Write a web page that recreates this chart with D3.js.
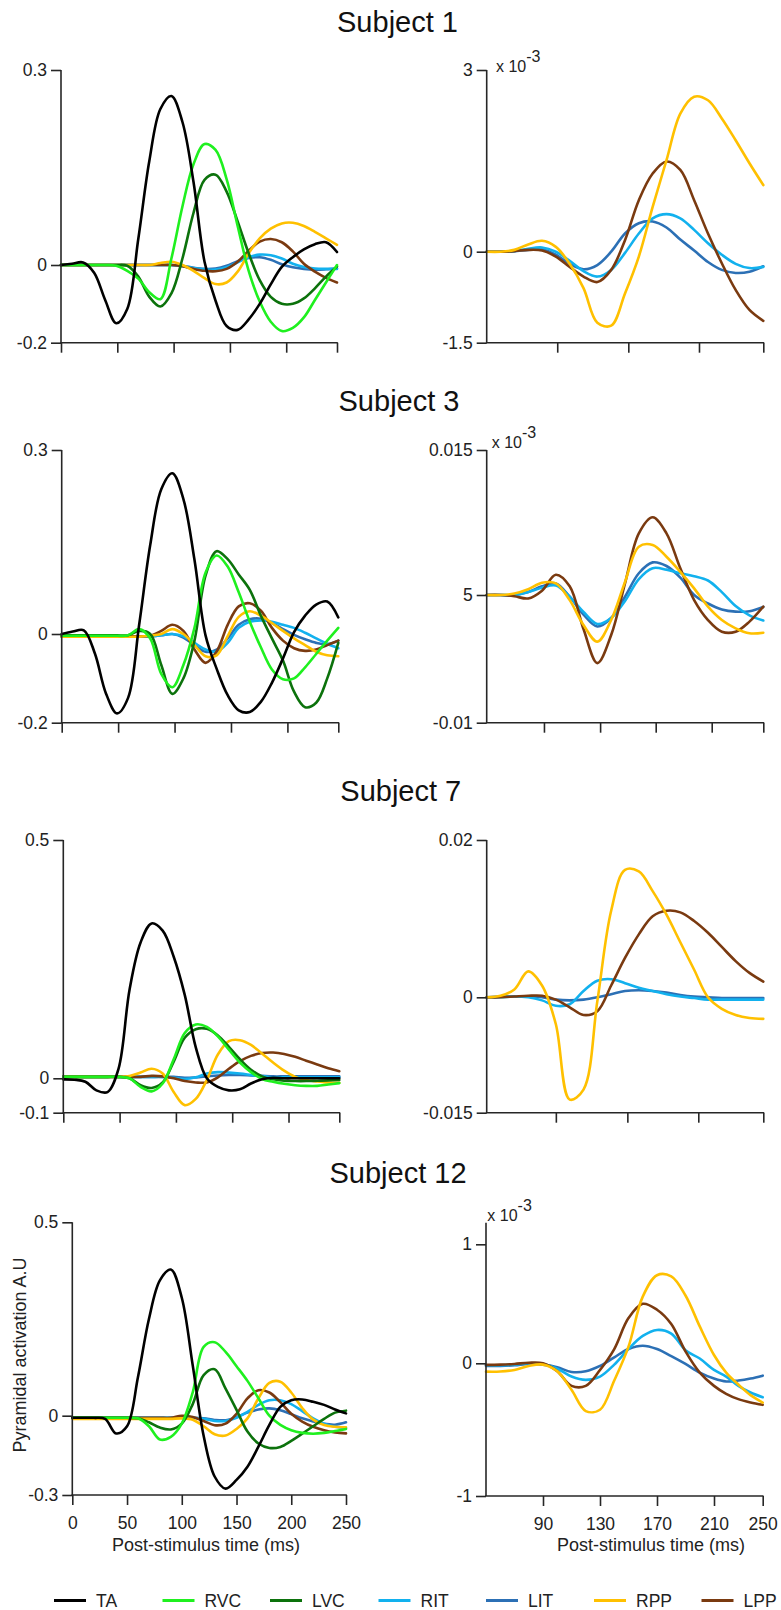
<!DOCTYPE html>
<html><head><meta charset="utf-8">
<script src="https://cdn.jsdelivr.net/npm/d3@7"></script>
<style>
body{margin:0;background:#fff;}
svg{display:block;font-family:"Liberation Sans",Arial,sans-serif;}
</style></head><body>
<svg id="chart" width="781" height="1610"></svg>
<script>
// ---------- DATA ----------
const seriesNames = ["TA","RVC","LVC","RIT","LIT","RPP","LPP"];
const subjects = ["Subject 1","Subject 3","Subject 7","Subject 12"];
const timeLeft = [0,10,20,30,40,50,60,70,80,90,100,110,120,130,140,150,160,170,180,190,200,210,220,230,240,250];
const timeRight = [50,60,70,80,90,100,110,120,130,140,150,160,170,180,190,200,210,220,230,240,250];

// Subject 1 – left
const s1L_TA  = [0,0.002,0.004,-0.02,-0.09,-0.15,-0.113,0.04,0.16,0.24,0.26,0.22,0.128,0.005,-0.092,-0.157,-0.167,-0.14,-0.1,-0.05,-0.005,0.012,0.024,0.032,0.035,0.02];
const s1L_RVC = [0,0,0,0,0,-0.002,-0.015,-0.035,-0.07,-0.088,0.01,0.09,0.155,0.186,0.177,0.132,0.06,-0.015,-0.094,-0.146,-0.17,-0.162,-0.135,-0.09,-0.045,0];
const s1L_LVC = [0,0,0,0,0,0,-0.002,-0.03,-0.082,-0.107,-0.073,0.01,0.08,0.131,0.139,0.113,0.067,0.018,-0.039,-0.082,-0.1,-0.1,-0.086,-0.06,-0.03,-0.004];
const s1L_RIT = [0,0,0,0,0,0,0,0,0,0,0,-0.003,-0.008,-0.011,-0.012,-0.006,0.004,0.012,0.016,0.015,0.01,0.002,-0.005,-0.009,-0.01,-0.01];
const s1L_LIT = [0,0,0,0,0,0,0,0,0,0,0,-0.002,-0.007,-0.01,-0.009,-0.002,0.006,0.011,0.012,0.008,0.001,-0.006,-0.01,-0.012,-0.011,-0.009];
const s1L_RPP = [0,0,0,0,0,0,0,0,0,0.003,0.005,0,-0.015,-0.034,-0.049,-0.045,-0.017,0.018,0.041,0.056,0.064,0.065,0.06,0.051,0.041,0.031];
const s1L_LPP = [0,0,0,0,0,0,0,0,0,0,0,-0.003,-0.01,-0.015,-0.016,-0.01,0.005,0.022,0.036,0.04,0.035,0.021,0.002,-0.017,-0.033,-0.045];
// Subject 1 – right (x 10^-3)
const s1R_RIT = [0,0,0.01,0.05,0.07,0,-0.15,-0.32,-0.41,-0.3,-0.02,0.3,0.55,0.62,0.55,0.36,0.14,-0.05,-0.2,-0.27,-0.25];
const s1R_LIT = [0,0,0.01,0.03,0.04,-0.05,-0.2,-0.29,-0.22,0,0.3,0.47,0.5,0.4,0.2,0.02,-0.17,-0.3,-0.35,-0.33,-0.24];
const s1R_RPP = [0,0,0.03,0.12,0.18,0.08,-0.2,-0.6,-1.17,-1.22,-0.69,-0.08,0.74,1.51,2.28,2.56,2.5,2.2,1.84,1.46,1.1];
const s1R_LPP = [0,0,0.01,0.03,0.02,-0.08,-0.25,-0.41,-0.5,-0.3,0.19,0.85,1.29,1.49,1.35,0.85,0.3,-0.19,-0.63,-0.96,-1.14];

// Subject 3 – left
const s3L_TA  = [0,0.004,0.006,-0.044,-0.134,-0.179,-0.144,0.015,0.145,0.236,0.262,0.22,0.121,-0.003,-0.078,-0.138,-0.172,-0.176,-0.153,-0.11,-0.055,0.003,0.03,0.048,0.053,0.027];
const s3L_RVC = [-0.004,-0.004,-0.004,-0.004,-0.004,-0.004,-0.003,0.008,-0.01,-0.09,-0.12,-0.07,0.01,0.1,0.128,0.11,0.068,0.02,-0.03,-0.08,-0.102,-0.1,-0.075,-0.045,-0.015,0.01];
const s3L_LVC = [-0.003,-0.003,-0.003,-0.003,-0.003,-0.003,-0.003,0.005,0,-0.07,-0.135,-0.1,-0.015,0.095,0.135,0.122,0.097,0.072,0.03,-0.01,-0.06,-0.13,-0.165,-0.155,-0.1,-0.02];
const s3L_RIT = [-0.006,-0.006,-0.006,-0.006,-0.006,-0.006,-0.006,-0.006,-0.006,-0.003,0,-0.005,-0.02,-0.035,-0.04,-0.02,0.01,0.02,0.022,0.02,0.015,0.01,0.002,-0.01,-0.022,-0.032];
const s3L_LIT = [-0.006,-0.006,-0.006,-0.006,-0.006,-0.006,-0.006,-0.006,-0.006,-0.003,0,-0.008,-0.025,-0.04,-0.035,-0.01,0.015,0.024,0.025,0.018,0.008,-0.002,-0.012,-0.02,-0.023,-0.015];
const s3L_RPP = [-0.006,-0.006,-0.006,-0.006,-0.006,-0.006,-0.006,-0.006,-0.004,0,0.008,0,-0.025,-0.05,-0.048,-0.005,0.028,0.037,0.03,0.018,0.005,-0.01,-0.025,-0.04,-0.048,-0.05];
const s3L_LPP = [-0.005,-0.005,-0.005,-0.005,-0.005,-0.005,-0.005,-0.005,-0.004,0.005,0.015,0.005,-0.035,-0.065,-0.04,0.015,0.045,0.05,0.038,0.01,-0.015,-0.032,-0.038,-0.035,-0.025,-0.015];
// Subject 3 – right (axis labelled 0.015 / 5 / -0.01)
const s3R_RIT = [5,5,5,5.2,5.5,5.65,4.8,3.0,1.6,2.3,4.3,6.1,6.85,6.75,6.5,6.3,6.0,5.2,3.7,2.6,2.0];
const s3R_LIT = [5,5,5,5.2,5.6,5.8,4.8,2.7,1.3,2.3,4.8,6.5,7.25,7.0,6.2,5.0,4.0,3.3,3.05,3.1,3.6];
const s3R_RPP = [5,5,5.1,5.4,5.85,5.8,4.4,1.47,-0.48,2.06,5.9,8.33,8.45,7.64,6.6,5.46,3.63,2.06,1.08,0.5,0.57];
const s3R_LPP = [5,5,4.85,4.6,5.3,6.4,5.6,1.0,-3.0,0.3,5.8,9.25,10.36,9.25,6.84,4.41,2.06,0.69,0.69,1.87,3.63];

// Subject 7 – left
const s7L_TA  = [-0.003,-0.004,-0.01,-0.035,-0.04,0.02,0.186,0.285,0.325,0.31,0.255,0.175,0.065,0,-0.025,-0.035,-0.032,-0.015,-0.003,0.001,0,0,0,0,0,0];
const s7L_RVC = [0.003,0.003,0.003,0.003,0.003,0.003,0,-0.025,-0.038,-0.015,0.04,0.095,0.113,0.108,0.088,0.06,0.033,0.013,-0.002,-0.01,-0.016,-0.02,-0.022,-0.022,-0.018,-0.014];
const s7L_LVC = [0.003,0.003,0.003,0.003,0.003,0.003,0,-0.02,-0.028,-0.012,0.035,0.085,0.103,0.104,0.09,0.066,0.04,0.018,0.004,-0.003,-0.007,-0.008,-0.008,-0.007,-0.006,-0.005];
const s7L_RIT = [0.003,0.003,0.003,0.003,0.003,0.003,0.003,0.003,0.003,0.003,0.001,-0.002,0.002,0.01,0.013,0.012,0.01,0.007,0.004,0.002,0.002,0.002,0.002,0.002,0.002,0.002];
const s7L_LIT = [0.003,0.003,0.003,0.003,0.003,0.003,0.003,0.003,0.003,0.003,0.003,0.001,0.002,0.004,0.006,0.007,0.007,0.006,0.005,0.004,0.004,0.004,0.004,0.004,0.004,0.004];
const s7L_RPP = [0.003,0.003,0.003,0.003,0.003,0.003,0.005,0.012,0.02,0.01,-0.04,-0.078,-0.06,-0.005,0.05,0.078,0.08,0.07,0.052,0.033,0.016,0.003,-0.005,-0.009,-0.012,-0.013];
const s7L_LPP = [0.003,0.003,0.003,0.003,0.003,0.003,0.003,0.003,0.005,0.004,0,-0.008,-0.012,-0.012,0.002,0.02,0.036,0.047,0.053,0.054,0.051,0.045,0.037,0.029,0.021,0.015];
// Subject 7 – right
const s7R_RIT = [0,0,0.0001,0,-0.0004,-0.0011,-0.0009,0.0008,0.0021,0.0023,0.0018,0.0012,0.0008,0.0004,0.0001,-0.0001,-0.0003,-0.0003,-0.0003,-0.0003,-0.0003];
const s7R_LIT = [0,0.0001,0.0001,0.0001,0,-0.0003,-0.0004,-0.0003,0,0.0004,0.0008,0.0009,0.0008,0.0006,0.0003,0.0001,0,-0.0001,-0.0001,-0.0001,-0.0001];
const s7R_RPP = [0,0.0002,0.001,0.0033,0.0015,-0.0035,-0.0133,-0.012,-0.0005,0.011,0.0162,0.016,0.0135,0.0105,0.007,0.0035,0,-0.0015,-0.0023,-0.0027,-0.0028];
const s7R_LPP = [0,0,0.0001,0.0002,0.0002,-0.0003,-0.0013,-0.0023,-0.0018,0.0015,0.005,0.008,0.0103,0.011,0.0108,0.0097,0.0082,0.0064,0.0046,0.0031,0.002];

// Subject 12 – left
const s12L_TA  = [-0.008,-0.008,-0.008,-0.012,-0.067,-0.04,0.1,0.25,0.35,0.378,0.305,0.13,-0.077,-0.23,-0.276,-0.243,-0.193,-0.117,-0.035,0.023,0.04,0.042,0.036,0.028,0.016,0.006];
const s12L_RVC = [-0.008,-0.008,-0.008,-0.008,-0.008,-0.008,-0.01,-0.04,-0.09,-0.08,-0.03,0.06,0.178,0.19,0.165,0.128,0.09,0.045,0,-0.035,-0.055,-0.065,-0.068,-0.065,-0.058,-0.05];
const s12L_LVC = [-0.008,-0.008,-0.008,-0.008,-0.008,-0.008,-0.01,-0.025,-0.045,-0.052,-0.03,0.03,0.105,0.12,0.07,0.015,-0.06,-0.105,-0.122,-0.118,-0.095,-0.068,-0.04,-0.012,0.008,0.013];
const s12L_RIT = [-0.008,-0.008,-0.008,-0.008,-0.008,-0.008,-0.008,-0.008,-0.008,-0.008,-0.008,-0.008,-0.012,-0.02,-0.02,-0.008,0.01,0.028,0.04,0.04,0.03,0.012,-0.01,-0.03,-0.042,-0.047];
const s12L_LIT = [-0.008,-0.008,-0.008,-0.008,-0.008,-0.008,-0.008,-0.008,-0.008,-0.008,-0.008,-0.008,-0.01,-0.016,-0.017,-0.005,0.008,0.016,0.019,0.014,0.004,-0.01,-0.022,-0.031,-0.034,-0.025];
const s12L_RPP = [-0.012,-0.012,-0.012,-0.012,-0.012,-0.012,-0.012,-0.012,-0.012,-0.012,-0.01,-0.015,-0.04,-0.07,-0.075,-0.05,-0.01,0.045,0.085,0.088,0.06,0.02,-0.015,-0.035,-0.042,-0.044];
const s12L_LPP = [-0.008,-0.008,-0.008,-0.008,-0.008,-0.008,-0.008,-0.008,-0.008,-0.008,0,-0.005,-0.02,-0.036,-0.03,0.005,0.045,0.066,0.06,0.035,0.005,-0.022,-0.042,-0.055,-0.063,-0.067];
// Subject 12 – right (x 10^-3)
const s12R_RIT = [-0.015,-0.015,-0.01,0,-0.005,-0.04,-0.1,-0.125,-0.1,-0.01,0.12,0.23,0.28,0.25,0.11,0.04,-0.05,-0.1,-0.17,-0.22,-0.256];
const s12R_LIT = [-0.02,-0.02,-0.015,-0.005,-0.01,-0.03,-0.065,-0.06,-0.02,0.05,0.12,0.148,0.12,0.06,-0.005,-0.07,-0.115,-0.137,-0.13,-0.115,-0.093];
const s12R_RPP = [-0.063,-0.062,-0.05,-0.02,-0.01,-0.06,-0.2,-0.36,-0.35,-0.13,0.14,0.56,0.74,0.73,0.57,0.31,0.07,-0.07,-0.16,-0.24,-0.296];
const s12R_LPP = [-0.012,-0.01,-0.005,0.005,0,-0.06,-0.17,-0.17,-0.05,0.12,0.38,0.5,0.45,0.33,0.1,-0.07,-0.17,-0.23,-0.27,-0.295,-0.313];

// tick values / labels
const yTicks1L = [-0.2,0,0.3],  yLabels1L = ["-0.2","0","0.3"];
const yTicks1R = [-1.5,0,3],    yLabels1R = ["-1.5","0","3"];
const yTicks3L = [-0.2,0,0.3],  yLabels3L = ["-0.2","0","0.3"];
const yTicks3R = [-10,5,15],    yLabels3R = ["-0.01","5","0.015"];
const yTicks7L = [-0.1,0,0.5],  yLabels7L = ["-0.1","0","0.5"];
const yTicks7R = [-0.015,0,0.02], yLabels7R = ["-0.015","0","0.02"];
const yTicks12L = [-0.3,0,0.5], yLabels12L = ["-0.3","0","0.5"];
const yTicks12R = [-1,0,1],     yLabels12R = ["-1","0","1"];
const xTicksLeftTop = [0,51,102,153,204,250];
const xTicks1R = [101,152.4,203.5,250];
const xTicks3R = [91.4,132,172.2,212.7,250];
const xTicks7R = [100,151.7,203,250];
const xTicks12L = [0,50,100,150,200,250];
const xTicks12R = [90,130,170,210,250];

// ---------- STYLE / LAYOUT ----------
const colors = {TA:"#000000",RVC:"#1ff01f",LVC:"#0c720c",RIT:"#12b1ee",LIT:"#2c70b5",RPP:"#ffc000",LPP:"#7a3a10"};
const drawOrder = ["LIT","RIT","LPP","RPP","LVC","RVC","TA"];
const FONT = 17.5;

const panels = [
  {t:timeLeft, d:{TA:s1L_TA,RVC:s1L_RVC,LVC:s1L_LVC,RIT:s1L_RIT,LIT:s1L_LIT,RPP:s1L_RPP,LPP:s1L_LPP},
   xd:[0,250], xr:[61,337], xt:xTicksLeftTop, xl:false, yd:yTicks1L, yr:[342.7,265,70], yl:yLabels1L, top:70},
  {t:timeRight, d:{RIT:s1R_RIT,LIT:s1R_LIT,RPP:s1R_RPP,LPP:s1R_LPP},
   xd:[50,250], xr:[486.7,763.3], xt:xTicks1R, xl:false, yd:yTicks1R, yr:[342.7,251.7,70], yl:yLabels1R, top:70, expo:[496,72]},
  {t:timeLeft, d:{TA:s3L_TA,RVC:s3L_RVC,LVC:s3L_LVC,RIT:s3L_RIT,LIT:s3L_LIT,RPP:s3L_RPP,LPP:s3L_LPP},
   xd:[0,250], xr:[61.7,338.3], xt:xTicksLeftTop, xl:false, yd:yTicks3L, yr:[722.7,634,450], yl:yLabels3L, top:450},
  {t:timeRight, d:{RIT:s3R_RIT,LIT:s3R_LIT,RPP:s3R_RPP,LPP:s3R_LPP},
   xd:[50,250], xr:[486.7,763.3], xt:xTicks3R, xl:false, yd:yTicks3R, yr:[722.7,595,450], yl:yLabels3R, top:450, expo:[491.7,448]},
  {t:timeLeft, d:{TA:s7L_TA,RVC:s7L_RVC,LVC:s7L_LVC,RIT:s7L_RIT,LIT:s7L_LIT,RPP:s7L_RPP,LPP:s7L_LPP},
   xd:[0,250], xr:[63.3,339.3], xt:xTicksLeftTop, xl:false, yd:yTicks7L, yr:[1112.7,1078.3,840], yl:yLabels7L, top:840},
  {t:timeRight, d:{RIT:s7R_RIT,LIT:s7R_LIT,RPP:s7R_RPP,LPP:s7R_LPP},
   xd:[50,250], xr:[486.7,763.3], xt:xTicks7R, xl:false, yd:yTicks7R, yr:[1112.7,997.3,840], yl:yLabels7R, top:840},
  {t:timeLeft, d:{TA:s12L_TA,RVC:s12L_RVC,LVC:s12L_LVC,RIT:s12L_RIT,LIT:s12L_LIT,RPP:s12L_RPP,LPP:s12L_LPP},
   xd:[0,250], xr:[72.3,346], xt:xTicks12L, xl:true, yd:yTicks12L, yr:[1495,1415.7,1222.3], yl:yLabels12L, top:1222.3, xtitle:206},
  {t:timeRight, d:{RIT:s12R_RIT,LIT:s12R_LIT,RPP:s12R_RPP,LPP:s12R_LPP},
   xd:[50,210,250], xr:[486,714,762.7], xt:xTicks12R, xl:true, yd:yTicks12R, yr:[1496,1363.3,1244.3], yl:yLabels12R, top:1222.7, expo:[487.3,1220.5], xtitle:651}
];
const titleY = [31.5, 410.7, 800.7, 1183.3];
const titleX = [397.5, 399, 400.8, 398];

const svg = d3.select("#chart");

subjects.forEach((s,i)=>{
  svg.append("text").attr("x",titleX[i]).attr("y",titleY[i])
    .attr("text-anchor","middle").attr("font-size",29).attr("fill","#111").text(s);
});

panels.forEach(p=>{
  const g = svg.append("g");
  const x = d3.scaleLinear().domain(p.xd).range(p.xr);
  const y = d3.scaleLinear().domain(p.yd).range(p.yr);
  const xAxisY = p.yr[0];
  const x0 = p.xr[0], x1 = p.xr[p.xr.length-1];

  // lines
  const line = d3.line().x(d=>x(d[0])).y(d=>y(d[1])).curve(d3.curveCatmullRom.alpha(0.5));
  drawOrder.forEach(name=>{
    if(!p.d[name]) return;
    const pts = p.t.map((t,k)=>[t,p.d[name][k]]);
    g.append("path").attr("d",line(pts)).attr("fill","none")
      .attr("stroke",colors[name]).attr("stroke-width",2.6)
      .attr("stroke-linejoin","round").attr("stroke-linecap","round");
  });

  // y axis
  const ya = g.append("g").attr("transform",`translate(${x0},0)`)
    .call(d3.axisLeft(y).tickValues(p.yd).tickFormat((d,k)=>p.yl[k]).tickSize(10).tickSizeOuter(0).tickPadding(4));
  ya.select(".domain").remove();
  ya.selectAll("line").attr("stroke","#262626").attr("stroke-width",1.6);
  ya.selectAll("text").attr("font-size",FONT).attr("fill","#222").attr("font-family",null);

  // x axis
  const xa = g.append("g").attr("transform",`translate(0,${xAxisY})`)
    .call(d3.axisBottom(x).tickValues(p.xt).tickFormat(p.xl ? d3.format("d") : "").tickSize(10).tickSizeOuter(0).tickPadding(p.xl?12:0));
  xa.select(".domain").remove();
  xa.selectAll("line").attr("stroke","#262626").attr("stroke-width",1.6);
  xa.selectAll("text").attr("font-size",FONT).attr("fill","#222").attr("font-family",null);

  // axis lines
  g.append("line").attr("x1",x0).attr("x2",x0).attr("y1",p.top).attr("y2",xAxisY)
    .attr("stroke","#262626").attr("stroke-width",1.6);
  g.append("line").attr("x1",x0-0.8).attr("x2",x1+0.8).attr("y1",xAxisY).attr("y2",xAxisY)
    .attr("stroke","#262626").attr("stroke-width",1.6);

  if(p.expo){
    const t = g.append("text").attr("x",p.expo[0]).attr("y",p.expo[1]).attr("font-size",16).attr("fill","#222");
    t.append("tspan").text("x 10");
    t.append("tspan").attr("dy",-10).attr("font-size",16).text("-3");
  }
  if(p.xtitle){
    g.append("text").attr("x",p.xtitle).attr("y",1551).attr("text-anchor","middle")
      .attr("font-size",18).attr("fill","#222").text("Post-stimulus time (ms)");
  }
});

// y axis title
svg.append("text").attr("transform","translate(26,1355) rotate(-90)")
  .attr("text-anchor","middle").attr("font-size",18).attr("fill","#222").text("Pyramidal activation A.U");

// legend
const legendX = [54,162.5,270,378.5,486,594,701.5];
const lg = svg.append("g");
seriesNames.forEach((name,i)=>{
  lg.append("line").attr("x1",legendX[i]).attr("x2",legendX[i]+32).attr("y1",1600.5).attr("y2",1600.5)
    .attr("stroke",colors[name]).attr("stroke-width",3);
  lg.append("text").attr("x",legendX[i]+42).attr("y",1606.5).attr("font-size",FONT).attr("fill","#222").text(name);
});
</script></body></html>
